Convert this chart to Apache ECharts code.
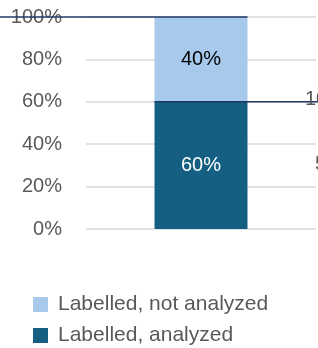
<!DOCTYPE html>
<html>
<head>
<meta charset="utf-8">
<script src="https://cdn.jsdelivr.net/npm/echarts@6/dist/echarts.min.js"></script>
<style>
  html, body { margin: 0; padding: 0; background: #ffffff; }
  #chart { width: 318px; height: 348px; }
</style>
</head>
<body>
<div id="chart"></div>
<script>
// data
var categories = [""];
var analyzed = [60];
var notAnalyzed = [40];
var seriesNames = ["Labelled, analyzed", "Labelled, not analyzed"];
var yTicks = { min: 0, max: 100, interval: 20 };
// clipped labels of the neighbour chart on the right
var sideLabels = ["10", "5"];

var font = "Liberation Sans";
var barWidth = 93;

var chart = echarts.init(document.getElementById("chart"));
chart.setOption({
  animation: false,
  grid: { left: 86, right: 2, top: 17, bottom: 119 },
  legend: {
    orient: "vertical",
    left: 33,
    top: 294,
    height: 80,
    padding: 0,
    itemWidth: 15,
    itemHeight: 15,
    itemGap: 10,
    icon: "rect",
    data: [seriesNames[1], seriesNames[0]],
    textStyle: { fontFamily: font, fontSize: 21, color: "#595959", lineHeight: 21, padding: [0, 0, 0, 5] },
  },
  xAxis: {
    type: "category",
    data: categories,
    axisLine: { show: false },
    axisTick: { show: false },
    axisLabel: { show: false },
  },
  yAxis: {
    type: "value",
    min: yTicks.min,
    max: yTicks.max,
    interval: yTicks.interval,
    axisLabel: {
      formatter: "{value}%",
      fontFamily: font,
      fontSize: 20,
      color: "#595959",
      margin: 24,
    },
    splitLine: { lineStyle: { color: "#d9d9d9", width: 1.5 } },
  },
  series: [
    {
      name: seriesNames[0],
      type: "bar",
      stack: "total",
      barWidth: barWidth,
      data: analyzed,
      itemStyle: { color: "#156082" },
      label: {
        show: true,
        position: "inside",
        formatter: "{c}%",
        fontFamily: font,
        fontSize: 20,
        color: "#ffffff",
      },
    },
    {
      name: seriesNames[1],
      type: "bar",
      stack: "total",
      barWidth: barWidth,
      data: notAnalyzed,
      itemStyle: { color: "#a6c9ec" },
      label: {
        show: true,
        position: "inside",
        formatter: "{c}%",
        fontFamily: font,
        fontSize: 20,
        color: "#000000",
      },
    },
  ],
});

// series lines: drawn from the axis scales
var cx = chart.convertToPixel({ xAxisIndex: 0 }, 0);
var yTop = chart.convertToPixel({ yAxisIndex: 0 }, analyzed[0] + notAnalyzed[0]);
var yMid = chart.convertToPixel({ yAxisIndex: 0 }, analyzed[0]);
var lineStyle = { stroke: "#1f3864", lineWidth: 1.5 };
chart.setOption({
  graphic: [
    { type: "line", z: 10, shape: { x1: 0, y1: yTop, x2: cx + barWidth / 2, y2: yTop }, style: lineStyle },
    { type: "line", z: 10, shape: { x1: cx - barWidth / 2, y1: yMid, x2: chart.getWidth(), y2: yMid }, style: lineStyle },
    { type: "text", z: 11, left: 305, top: yMid - 12, style: { text: sideLabels[0], font: "20px " + font, fill: "#595959" } },
    { type: "text", z: 11, left: 315, top: 154, style: { text: sideLabels[1], font: "20px " + font, fill: "#595959" } },
  ],
});
</script>
</body>
</html>
